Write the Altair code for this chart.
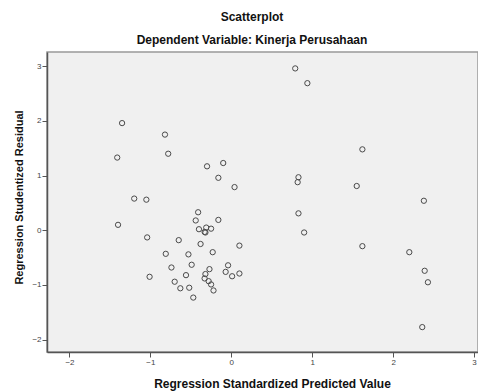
import altair as alt
import pandas as pd

# Regression Standardized Predicted Value
pred = [-1.35, -0.82, -1.41, -0.78, -0.30, -0.10, -0.16, 0.04, -1.20, -1.05,
        -0.41, 0.79, 0.94, 1.62, 0.83, 0.82, 1.55, 2.38, 0.83, 0.90,
        1.62, 2.20, 2.39, 2.43, 2.36, -0.44, -0.16, -1.40, -0.40, -0.31,
        -0.33, -0.32, -0.25, -1.04, -0.65, -0.38, 0.10, -0.81, -0.53, -0.23,
        -0.49, -0.74, -0.27, -0.04, -0.07, 0.01, 0.10, -1.01, -0.56, -0.32,
        -0.33, -0.28, -0.25, -0.70, -0.63, -0.52, -0.22, -0.47]
# Regression Studentized Residual
resid = [1.96, 1.75, 1.33, 1.40, 1.17, 1.23, 0.96, 0.79, 0.58, 0.56,
         0.33, 2.96, 2.69, 1.48, 0.97, 0.88, 0.81, 0.54, 0.31, -0.04,
         -0.29, -0.40, -0.74, -0.95, -1.77, 0.18, 0.19, 0.10, 0.02, 0.05,
         -0.03, -0.04, 0.03, -0.13, -0.18, -0.25, -0.28, -0.43, -0.44, -0.40,
         -0.63, -0.68, -0.71, -0.64, -0.76, -0.84, -0.79, -0.85, -0.82, -0.80,
         -0.88, -0.93, -0.99, -0.94, -1.06, -1.05, -1.10, -1.23]

x_ticks = [-2, -1, 0, 1, 2, 3]
y_ticks = [-2, -1, 0, 1, 2, 3]

df = pd.DataFrame({"pred": pred, "resid": resid})

font = "Liberation Sans"

chart = alt.Chart(df).mark_point(
    shape="circle", filled=False, size=28, strokeWidth=1, color="#4a4a4a", opacity=1
).encode(
    x=alt.X("pred:Q",
            scale=alt.Scale(domain=[-2.278, 3.049], nice=False, zero=False),
            axis=alt.Axis(title="Regression Standardized Predicted Value",
                          values=x_ticks, grid=False, tickSize=5, labelPadding=1,
                          labelFontSize=8, labelColor="#444", labelFont=font,
                          titleFont=font, titleFontSize=12, titleFontWeight="bold",
                          titleColor="#111", titleX=225, titleY=31,
                          titleBaseline="middle",
                          domainColor="#555", domainWidth=1.5, tickColor="#555")),
    y=alt.Y("resid:Q",
            scale=alt.Scale(domain=[-2.225, 3.26], nice=False, zero=False),
            axis=alt.Axis(title="Regression Studentized Residual",
                          values=y_ticks, grid=False, tickSize=5, labelPadding=1,
                          labelFontSize=8, labelColor="#444", labelFont=font,
                          titleFont=font, titleFontSize=11, titleFontWeight="bold",
                          titleColor="#111", titleX=-28, titleY=145,
                          titleBaseline="middle",
                          domainColor="#555", domainWidth=1.5, tickColor="#555")),
).properties(
    width=431,
    height=300,
    title=alt.TitleParams(
        text="Scatterplot",
        subtitle="Dependent Variable: Kinerja Perusahaan",
        anchor="middle", dx=-10.5, offset=5,
        font=font, fontSize=12, fontWeight="bold", color="#111",
        subtitleFont=font, subtitleFontSize=12, subtitleFontWeight="bold",
        subtitleColor="#111", subtitlePadding=11,
    ),
    autosize=alt.AutoSizeParams(type="none"),
    padding={"left": 39, "top": 44, "right": 0, "bottom": 42},
    background="white",
).configure_view(
    fill="#f0f0f0", stroke="#999", strokeWidth=1.5
)

chart.save("out.html", embed_options={"renderer": "svg", "actions": False})
